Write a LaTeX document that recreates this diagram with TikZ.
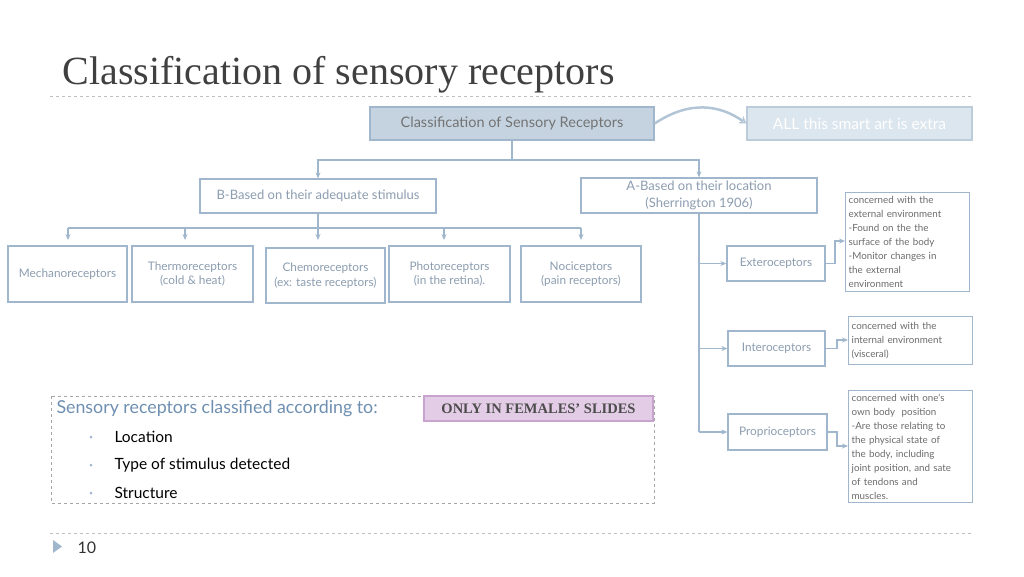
\documentclass[tikz,border=0pt]{standalone}
\usepackage{fontspec}
\setmainfont{Lato}
\newfontfamily\titlefont{Liberation Serif}
\usetikzlibrary{arrows.meta, positioning}
\definecolor{boxline}{HTML}{9FB6CC}
\definecolor{boxtext}{HTML}{8C9DB0}
\definecolor{topfill}{HTML}{C5D3E0}
\definecolor{extrafill}{HTML}{DCE6EE}
\definecolor{pinkfill}{HTML}{E3CCE6}
\definecolor{pinkline}{HTML}{C9A3CF}
\definecolor{headblue}{HTML}{6E8FB0}

\tikzset{
    box/.style={draw=boxline, line width=1.3pt, fill=white, text=boxtext, font=\fontsize{11.8}{14.5}\selectfont, align=center, inner sep=1pt},
    note/.style={draw=boxline, line width=1.3pt, fill=white, text=gray!85!black, font=\fontsize{9.8}{14}\selectfont, align=left, text width=118pt, inner sep=3pt, anchor=north west},
    link/.style={boxline, line width=1.3pt},
    arr/.style={boxline, line width=1.3pt, -{Stealth[length=6pt, width=5pt]}},
}

\begin{document}
\begin{tikzpicture}[x=1pt, y=-1pt]
        \useasboundingbox (0,0) rectangle (1024,576);

        % title
        \node[anchor=base west, font=\titlefont\fontsize{40}{44}\selectfont, text=black!75] (title) at (59,84) {Classification of sensory receptors};
        \draw[gray!50, dashed] (50,96) -- (972,96);

        % top row
        \node[box, fill=topfill, text=gray!90!black, font=\fontsize{14.5}{17}\selectfont, minimum width=284pt, minimum height=33pt] (top) at (512,123.5) {Classification of Sensory Receptors};
        \node[box, fill=extrafill, draw=boxline!70, text=white, font=\fontsize{15.5}{18}\selectfont, minimum width=225pt, minimum height=33pt] (extra) at (859.5,123.5) {ALL this smart art is extra};
        \draw[boxline!80, line width=2.5pt, -{Stealth[open, length=7pt, width=9pt]}] (top.east) .. controls (690,100) and (720,105) .. (extra.west);

        % second level
        \node[box, font=\fontsize{13}{16}\selectfont, minimum width=236pt, minimum height=34pt] (B) at (318,196) {B-Based on their adequate stimulus};
        \node[box, font=\fontsize{13}{17}\selectfont, minimum width=236pt, minimum height=35pt] (A) at (699,195.5) {A-Based on their location\\(Sherrington 1906)};
        \coordinate (topfork) at (512,160);
        \draw[link] (top.south) -- (topfork);
        \draw[arr] (topfork) -| (B.north);
        \draw[arr] (topfork) -| (A.north);

        % stimulus receptors
        \node[box, minimum width=119pt, minimum height=56pt] (mech) at (67.5,274) {Mechanoreceptors};
        \node[box, minimum width=121pt, minimum height=56pt] (thermo) at (192.5,274) {Thermoreceptors\\(cold \& heat)};
        \node[box, minimum width=119pt, minimum height=55pt] (chemo) at (325.5,275.5) {Chemoreceptors\\(ex: taste receptors)};
        \node[box, minimum width=121pt, minimum height=56pt] (photo) at (449.5,274) {Photoreceptors\\(in the retina).};
        \node[box, minimum width=120pt, minimum height=56pt] (noci) at (581,274) {Nociceptors\\(pain receptors)};
        \coordinate (Bfork) at (318,228);
        \draw[link] (B.south) -- (Bfork);
        \draw[link] (68,228) -- (581,228);
        \foreach \x/\n in {68/mech, 185/thermo, 318/chemo, 444/photo, 581/noci} {
            \draw[arr] (\x,228) -- (\x,240);
        }

        % location receptors
        \node[box, minimum width=98pt, minimum height=35pt] (extero) at (776,263.5) {Exteroceptors};
        \node[box, minimum width=97pt, minimum height=35pt] (intero) at (776.5,348.5) {Interoceptors};
        \node[box, minimum width=99pt, minimum height=36pt] (proprio) at (777.5,432) {Proprioceptors};
        \coordinate (Aend) at (699,432);
        \draw[link] (A.south -| Aend) -- (Aend);
        \draw[arr] (699,263.5) -- (extero.west);
        \draw[arr] (699,348.5) -- (intero.west);
        \draw[arr] (Aend) -- (proprio.west);

        % notes
        \node[note, minimum height=99pt] (exnote) at (845,192) {concerned with the\\external environment\\-Found on the the\\surface of the body\\-Monitor changes in\\the external\\environment};
        \node[note, minimum height=48pt] (innote) at (848,316) {concerned with the\\internal environment\\(visceral)};
        \node[note, minimum height=112pt] (prnote) at (848,390) {concerned with one`s\\own body\ \ position\\-Are those relating to\\the physical state of\\the body, including\\joint position, and sate\\of tendons and\\muscles.};
        \draw[arr] (extero.east) -- (835,263.5) |- (exnote.west |- 0,241);
        \draw[arr] (intero.east) -- (837,348.5) |- (innote.west |- 0,340);
        \draw[arr] (proprio.east) -- (837,432) |- (prnote.west |- 0,446);

        % summary
        \draw[gray!70, dashed, line width=1pt] (51,396) rectangle (654,503);
        \node[draw=pinkline, fill=pinkfill, line width=1.5pt, font=\titlefont\bfseries\fontsize{14.5}{16}\selectfont, text=black!70, minimum width=229pt, minimum height=25pt] (females) at (538.5,408.5) {ONLY IN FEMALES’ SLIDES};
        \node[anchor=west, text=headblue, font=\fontsize{17.8}{20}\selectfont] (heading) at (53,408.5) {Sensory receptors classified according to:};
        \foreach \t [count=\k] in {Location, Type of stimulus detected, Structure} {
            \fill[boxline] (91,409+28*\k) circle (1.5pt);
            \node[anchor=west, font=\fontsize{15.5}{18}\selectfont] (item\k) at (111,409+28*\k) {\t};
        }

        % footer
        \draw[gray!50, dashed, line width=1pt] (50,533) -- (972,533);
        \fill[boxline] (53,540) -- (62,546.5) -- (53,553) -- cycle;
        \node[anchor=west, font=\fontsize{16}{18}\selectfont, text=black!80] (page) at (74,548) {10};
\end{tikzpicture}
\end{document}
